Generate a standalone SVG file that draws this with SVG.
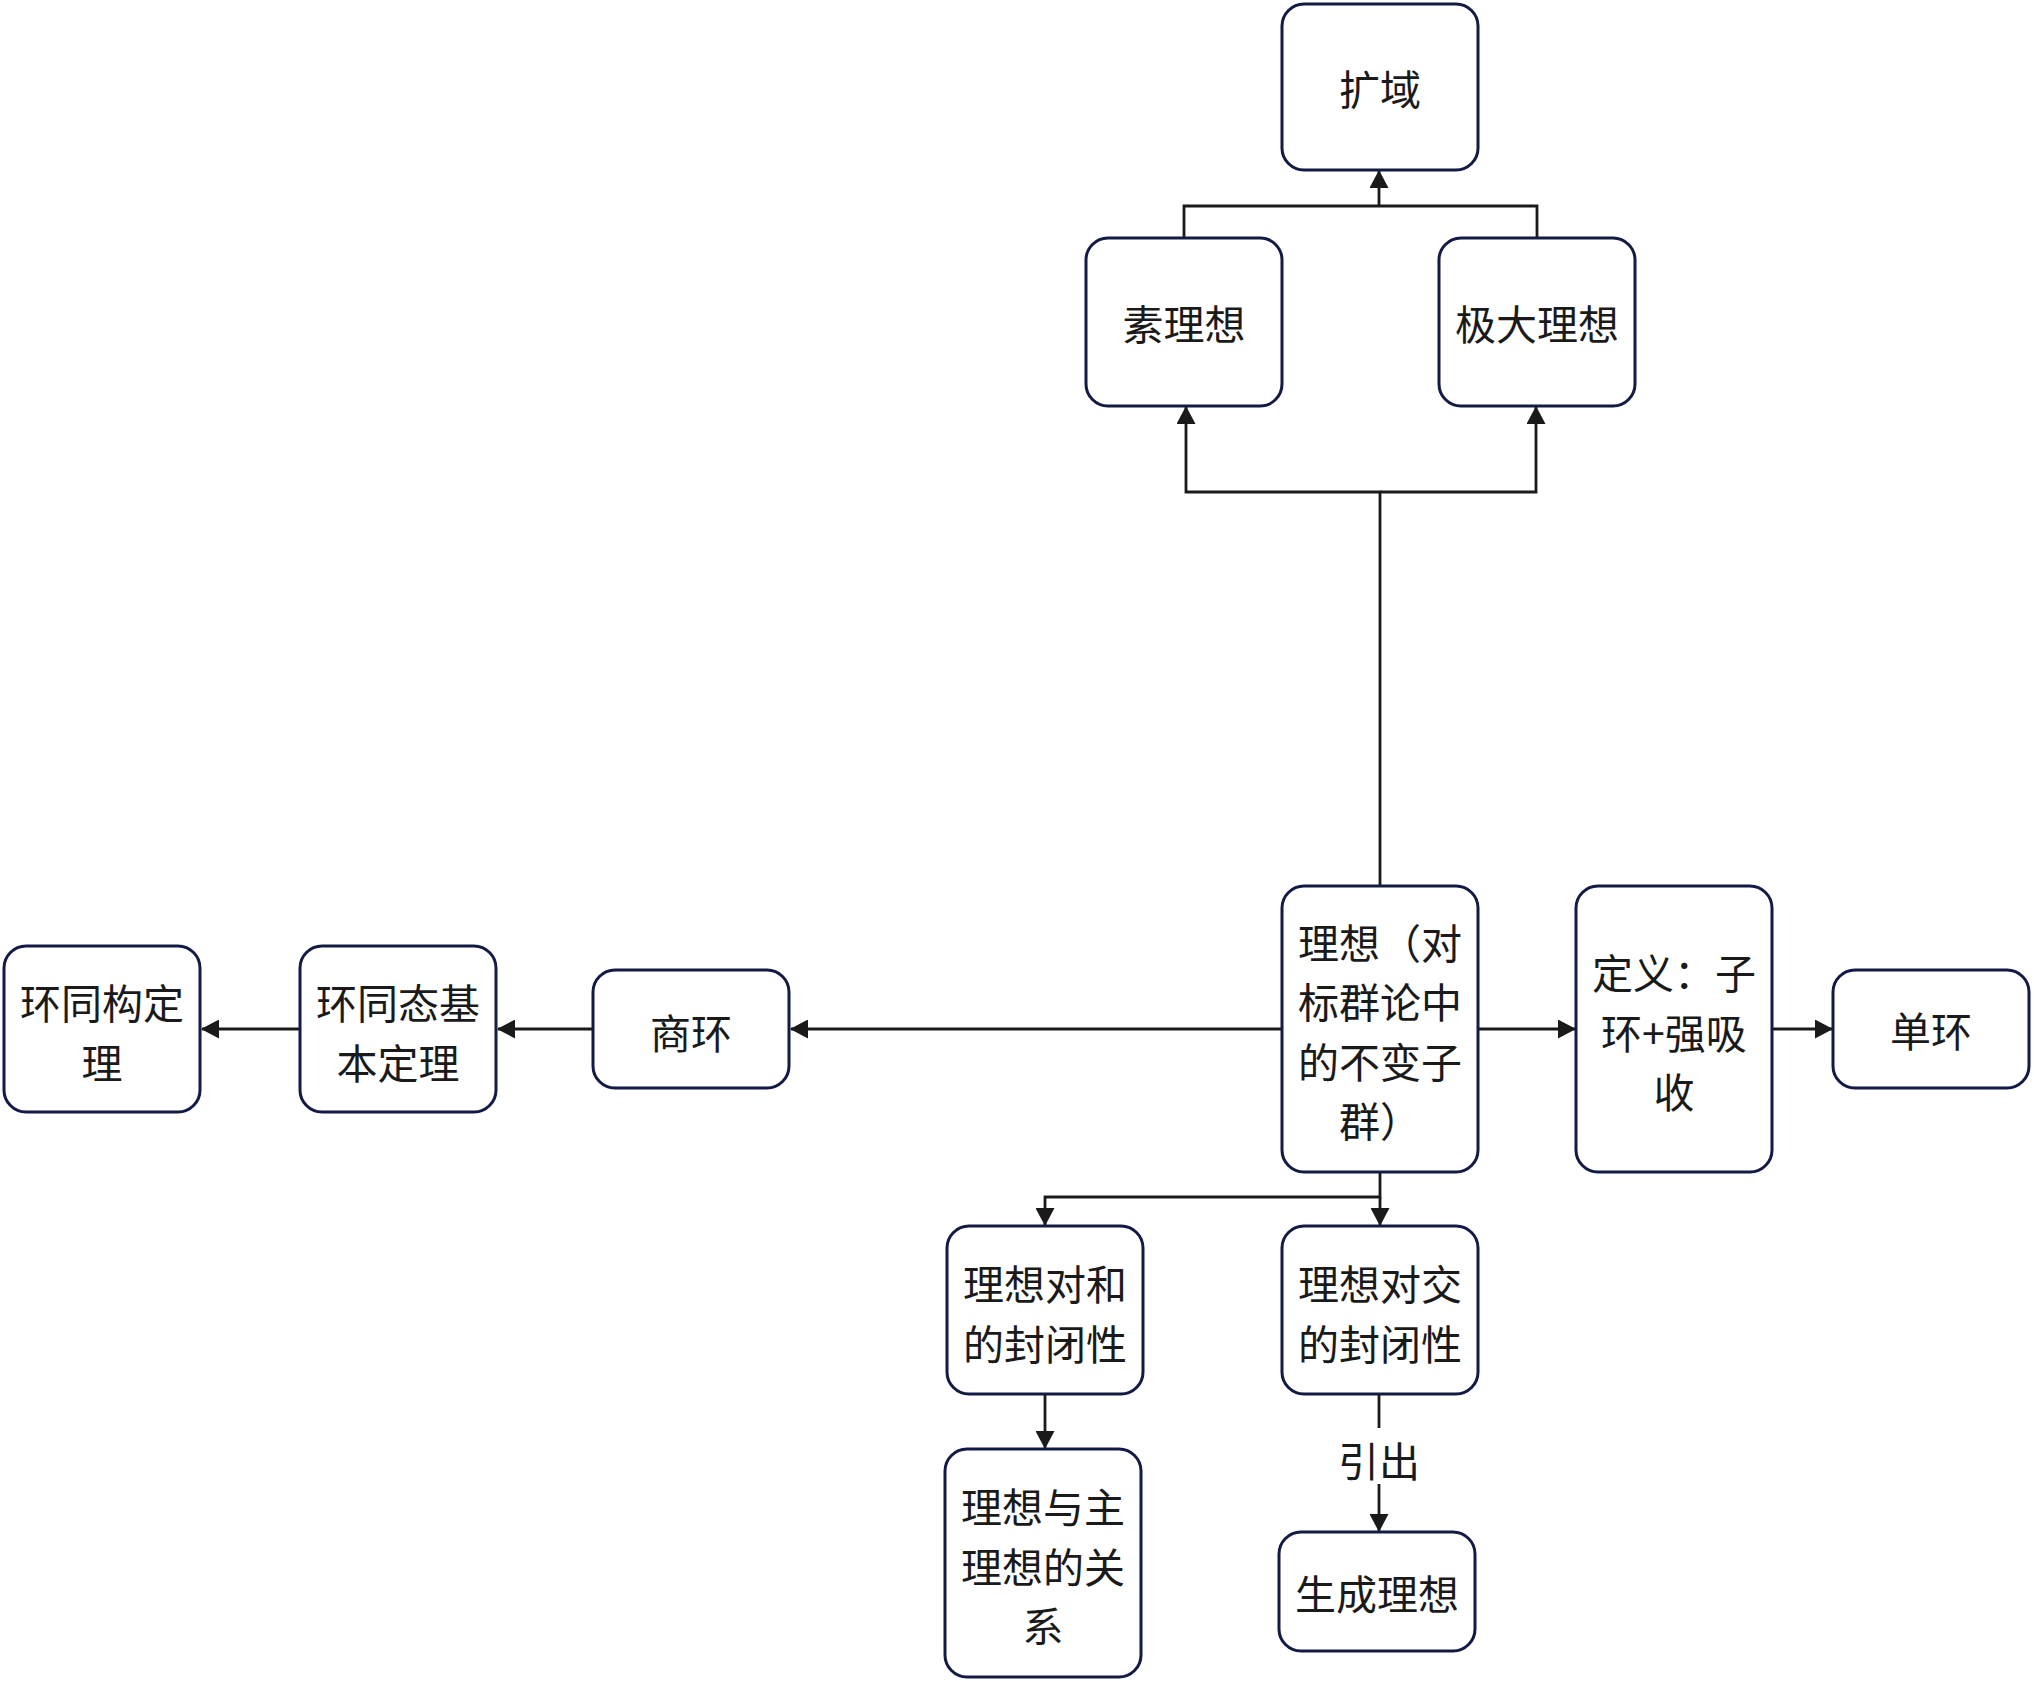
<svg xmlns="http://www.w3.org/2000/svg" width="2034" height="1681" viewBox="0 0 2034 1681">
<style>
.node rect{fill:#ffffff;stroke:#141a46;stroke-width:3}
.node text,.lbl{font-family:"Noto Sans CJK SC","Noto Sans",sans-serif;font-size:41px;fill:#1a1a1a;text-anchor:middle;dominant-baseline:central}
.edge{fill:none;stroke:#1a1a1a;stroke-width:2.8}
</style>
<defs>
<marker id="arr" markerUnits="userSpaceOnUse" viewBox="0 0 18 19" markerWidth="18" markerHeight="19" refX="17" refY="9.5" orient="auto">
<path d="M0,0 L18,9.5 L0,19 z" fill="#1a1a1a"/>
</marker>
</defs>
<rect x="0" y="0" width="2034" height="1681" fill="#ffffff"/>
<g id="connectors">
<path class="edge" d="M1380,886 V492 H1186 V407" marker-end="url(#arr)"/>
<path class="edge" d="M1380,492 H1536 V407" marker-end="url(#arr)"/>
<path class="edge" d="M1184,238 V206 H1537 V238"/>
<path class="edge" d="M1379,206 V171" marker-end="url(#arr)"/>
<path class="edge" d="M1282,1029 H791" marker-end="url(#arr)"/>
<path class="edge" d="M593,1029 H498" marker-end="url(#arr)"/>
<path class="edge" d="M300,1029 H202" marker-end="url(#arr)"/>
<path class="edge" d="M1478,1029 H1575" marker-end="url(#arr)"/>
<path class="edge" d="M1772,1029 H1832" marker-end="url(#arr)"/>
<path class="edge" d="M1380,1172 V1197 H1045 V1225" marker-end="url(#arr)"/>
<path class="edge" d="M1380,1197 V1225" marker-end="url(#arr)"/>
<path class="edge" d="M1045,1394 V1448" marker-end="url(#arr)"/>
<path class="edge" d="M1379,1394 V1531" marker-end="url(#arr)"/>
<rect x="1336" y="1428" width="86" height="56" fill="#ffffff"/>
<text class="lbl" x="1379" y="1459">引出</text>
</g>
<g id="n-kuoyu" class="node"><rect x="1282" y="4" width="196" height="166" rx="22"/><text x="1380" y="87">扩域</text></g>
<g id="n-sulixiang" class="node"><rect x="1086" y="238" width="196" height="168" rx="22"/><text x="1184" y="322">素理想</text></g>
<g id="n-jida" class="node"><rect x="1439" y="238" width="196" height="168" rx="22"/><text x="1537" y="322">极大理想</text></g>
<g id="n-lixiang" class="node"><rect x="1282" y="886" width="196" height="286" rx="22"/>
<text x="1380" y="941">理想（对</text><text x="1380" y="1000">标群论中</text><text x="1380" y="1060">的不变子</text><text x="1380" y="1119">群）</text></g>
<g id="n-dingyi" class="node"><rect x="1576" y="886" width="196" height="286" rx="22"/>
<text x="1674" y="971">定义：子</text><text x="1674" y="1031">环+强吸</text><text x="1674" y="1090">收</text></g>
<g id="n-danhuan" class="node"><rect x="1833" y="970" width="196" height="118" rx="22"/><text x="1931" y="1029">单环</text></g>
<g id="n-shanghuan" class="node"><rect x="593" y="970" width="196" height="118" rx="22"/><text x="691" y="1031">商环</text></g>
<g id="n-tongtai" class="node"><rect x="300" y="946" width="196" height="166" rx="22"/>
<text x="398" y="1001">环同态基</text><text x="398" y="1061">本定理</text></g>
<g id="n-tonggou" class="node"><rect x="4" y="946" width="196" height="166" rx="22"/>
<text x="102" y="1001">环同构定</text><text x="102" y="1061">理</text></g>
<g id="n-he" class="node"><rect x="947" y="1226" width="196" height="168" rx="22"/>
<text x="1045" y="1282">理想对和</text><text x="1045" y="1342">的封闭性</text></g>
<g id="n-jiao" class="node"><rect x="1282" y="1226" width="196" height="168" rx="22"/>
<text x="1380" y="1282">理想对交</text><text x="1380" y="1342">的封闭性</text></g>
<g id="n-zhu" class="node"><rect x="945" y="1449" width="196" height="228" rx="22"/>
<text x="1043" y="1505">理想与主</text><text x="1043" y="1565">理想的关</text><text x="1043" y="1624">系</text></g>
<g id="n-shengcheng" class="node"><rect x="1279" y="1532" width="196" height="119" rx="22"/><text x="1377" y="1592">生成理想</text></g>
</svg>
